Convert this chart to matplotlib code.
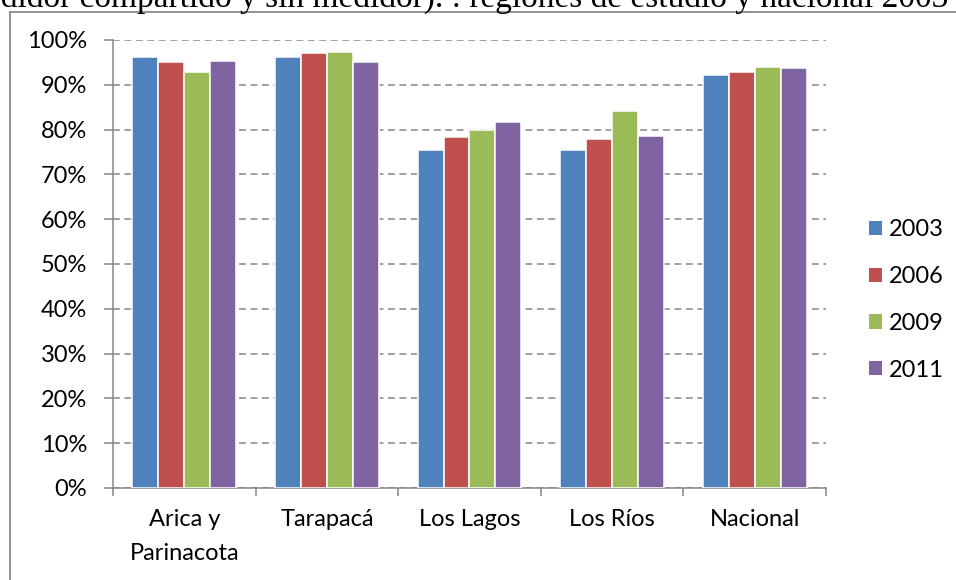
import matplotlib
matplotlib.use("Agg")
import matplotlib.pyplot as plt
from matplotlib.lines import Line2D
from matplotlib.patches import Patch
import numpy as np

categories = ["Arica y\nParinacota", "Tarapacá", "Los Lagos", "Los Ríos", "Nacional"]
years = ["2003", "2006", "2009", "2011"]
v2003 = [96.1, 96.1, 75.5, 75.5, 92.1]
v2006 = [95.1, 97.2, 78.4, 78.0, 92.9]
v2009 = [92.9, 97.3, 80.0, 84.1, 94.0]
v2011 = [95.3, 95.1, 81.7, 78.5, 93.7]
series = [v2003, v2006, v2009, v2011]
colors = ["#4F81BD", "#C0504D", "#9BBB59", "#8064A2"]
yticks = [0, 10, 20, 30, 40, 50, 60, 70, 80, 90, 100]
title_prefix = "medidor "
title_rest = "compartido y sin medidor). : regiones de estudio y nacional 2003-2011"

plt.rcParams['font.family'] = ['Lato', 'DejaVu Sans']
W, H = 956, 580
FS = 17
fig = plt.figure(figsize=(W/100, H/100), dpi=100)
ax = fig.add_axes([113/W, 1-488/H, (826-113)/W, (488-40)/H])

grid_c = "#868686"
bw = 0.1823
x = np.arange(len(categories))
for j, (vals, c) in enumerate(zip(series, colors)):
    ax.bar(x + (j-1.5)*bw, np.array(vals)/100, width=bw, color=c,
           edgecolor="white", linewidth=1.1, zorder=3, label=years[j])

ax.set_xlim(-0.5, len(categories)-0.5)
ax.set_ylim(0, 1)
ax.set_yticks([v/100 for v in yticks])
ax.set_yticklabels([f"{v}%" for v in yticks])
ax.yaxis.grid(True, color=grid_c, linestyle=(0, (4.5, 3)), linewidth=1.1, zorder=0)
ax.set_axisbelow(True)
ax.set_xticks(x)
ax.set_xticklabels(categories, linespacing=1.75)
ax.set_xticks(np.arange(-0.5, len(categories), 1.0), minor=True)
ax.tick_params(axis='x', which='major', length=0, pad=15, labelsize=FS)
ax.tick_params(axis='x', which='minor', length=6, width=1.1, color=grid_c, direction='out')
ax.tick_params(axis='y', length=6.5, width=1.1, color=grid_c, pad=12, labelsize=FS)
for s in ['top', 'right']:
    ax.spines[s].set_visible(False)
for s in ['left', 'bottom']:
    ax.spines[s].set_color(grid_c)
    ax.spines[s].set_linewidth(1.1)

handles = [Patch(facecolor=c, edgecolor='none') for c in colors]
fig.legend(handles, years, loc='center left', bbox_to_anchor=(869/W, 1-300/H),
           frameon=False, fontsize=FS, handlelength=0.55, handleheight=0.55,
           handletextpad=0.3, labelspacing=1.09, borderpad=0, borderaxespad=0)

# outer chart frame (partially visible)
fig.add_artist(Line2D([10/W, 10/W], [0, 1-12/H], color="#8a8a8a", lw=1.3, transform=fig.transFigure))
fig.add_artist(Line2D([10/W, 1], [1-12/H, 1-12/H], color="#8a8a8a", lw=1.3, transform=fig.transFigure))

# cropped caption text at top: place so that "compartido" starts near x=80px
tfont = dict(fontsize=24, family=['Liberation Serif'])
probe = fig.text(0, 0.5, title_prefix.strip(), **tfont)
sp = fig.text(0, 0.5, "a a", **tfont)
sp2 = fig.text(0, 0.5, "aa", **tfont)
fig.canvas.draw()
r = fig.canvas.get_renderer()
wpre = probe.get_window_extent(r).width + (sp.get_window_extent(r).width - sp2.get_window_extent(r).width)
probe.remove(); sp.remove(); sp2.remove()
fig.text((80 - wpre)/W, 1-7/H, title_prefix + title_rest, ha='left', va='baseline', **tfont)

fig.savefig("out.png", dpi=100)
